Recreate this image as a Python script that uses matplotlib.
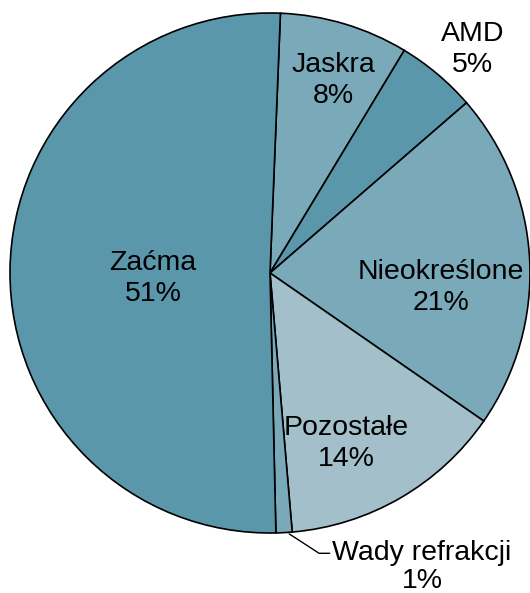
import matplotlib
matplotlib.use('Agg')
import matplotlib.pyplot as plt
import numpy as np

plt.rcParams['font.family'] = ['Liberation Sans', 'DejaVu Sans']

# dane
labels = ['Jaskra', 'AMD', 'Nieokreślone', 'Pozostałe', 'Wady refrakcji', 'Zaćma']
shares = [8, 5, 21, 14, 1, 51]
colors = ['#7AAAB9', '#5B97AB', '#7AAAB9', '#A3C0CA', '#7AAAB9', '#5B97AB']

# pozycje etykiet (promień względem środka, przesunięcie kąta w stopniach)
label_pos = {
    'Jaskra':       (0.78, -1.5),
    'AMD':          (1.16, -2),
    'Nieokreślone': (0.66, -8),
    'Pozostałe':    (0.72, -6),
    'Zaćma':        (0.45, 3),
}

W, H = 530, 593
fig = plt.figure(figsize=(W / 100, H / 100), dpi=100)
cx, cy, r = 270, 273, 260
ax = fig.add_axes([(cx - r) / W, (H - cy - r) / H, 2 * r / W, 2 * r / H])

start = 87.7
wedges, _ = ax.pie(shares, colors=colors, startangle=start, counterclock=False,
                   radius=1, wedgeprops=dict(edgecolor='black', linewidth=1.2))
ax.set_xlim(-1, 1)
ax.set_ylim(-1, 1)
ax.set_aspect('auto')
ax.axis('off')

fs = 20.5
for w, lab, v in zip(wedges, labels, shares):
    mid = np.deg2rad((w.theta1 + w.theta2) / 2)
    if lab in label_pos:
        rr, off = label_pos[lab]
        a = mid + np.deg2rad(off)
        ax.text(rr * np.cos(a), rr * np.sin(a), f'{lab}\n{v}%',
                ha='center', va='center', fontsize=fs, linespacing=1.25)
    else:
        x0, y0 = np.cos(mid), np.sin(mid)
        ax.annotate(f'{lab}\n{v}%', xy=(x0 + 0.02, y0 - 0.005), xytext=(0.585, -1.13),
                    ha='center', va='center', fontsize=fs, linespacing=1.1,
                    annotation_clip=False,
                    arrowprops=dict(arrowstyle='-', color='black', lw=1.0,
                                    shrinkA=0, shrinkB=0,
                                    connectionstyle='angle,angleA=0,angleB=-33,rad=0',
                                    relpos=(0.0, 0.75)))

plt.savefig('out.png', dpi=100)
